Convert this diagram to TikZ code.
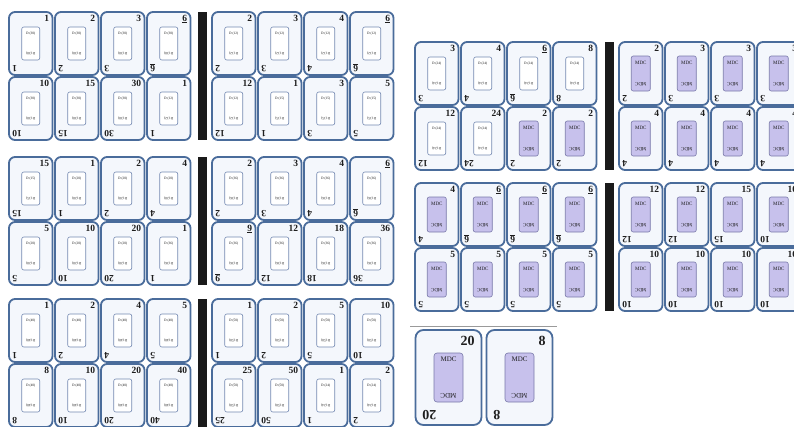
\documentclass[tikz,border=0pt]{standalone}
\usepackage{fontspec}
\setmainfont{Liberation Serif}
\usepackage{xcolor}
\usetikzlibrary{positioning,calc}
\definecolor{cardline}{HTML}{4A6C9B}
\definecolor{cardfill}{HTML}{F4F7FC}
\definecolor{divline}{HTML}{7489B2}
\definecolor{mdcfill}{HTML}{C7C1EC}
\definecolor{mdcline}{HTML}{7A7AAA}
\definecolor{numcol}{HTML}{1E1E1E}
\definecolor{barcol}{HTML}{1A1A1A}
\definecolor{rulegray}{HTML}{9A9A9A}
\tikzset{
  card/.style={draw=cardline, line width=1.8pt, rounded corners=6pt, fill=cardfill,
               minimum width=43.5pt, minimum height=63pt, inner sep=0pt},
  bigcard/.style={card, minimum width=66pt, minimum height=95pt, rounded corners=8pt},
  div/.style={draw=divline, line width=0.6pt, rounded corners=2pt, fill=white,
              minimum width=18pt, minimum height=33pt, inner sep=0pt},
  mdc/.style={div, draw=mdcline, fill=mdcfill, minimum width=19pt, minimum height=35pt},
  bigmdc/.style={mdc, minimum width=29pt, minimum height=49pt, rounded corners=3pt},
  num/.style={font=\fontsize{9.5}{10}\selectfont\bfseries, text=numcol, inner sep=0.5pt},
  bignum/.style={num, font=\fontsize{14}{15}\selectfont\bfseries},
  intxt/.style={font=\fontsize{3.5}{4}\selectfont, text=numcol, inner sep=0pt},
  bigtxt/.style={intxt, font=\fontsize{7}{7}\selectfont},
  bar/.style={fill=barcol}
}
\newcommand{\mdcname}{{\fontsize{5}{5}\selectfont MDC}}
% one block of 4x2 cards: id, left x, top y, list number/box/label
\newcommand{\cardblock}[4]{%
  \foreach \cn/\ck/\cl [count=\i from 0] in {#4} {
    \pgfmathsetmacro{\cx}{#2+mod(\i,4)*46+21.75}
    \pgfmathsetmacro{\cy}{#3+int(\i/4)*65+31.5}
    \node[card] (#1c\i) at (\cx,\cy) {};
    \node[\ck] (#1i\i) at (#1c\i.center) {};
    \node[intxt] (#1t\i) at ([yshift=-7pt]#1i\i.north) {\cl};
    \node[intxt, rotate=180] (#1b\i) at ([yshift=7pt]#1i\i.south) {\cl};
    \node[num, anchor=north east] (#1n\i) at ([xshift=-3.5pt,yshift=-3pt]#1c\i.north east) {\cn};
    \node[num, rotate=180, anchor=north east] (#1r\i) at ([xshift=3.5pt,yshift=3pt]#1c\i.south west) {\cn};
  }%
}

\begin{document}
\begin{tikzpicture}[x=1pt,y=-1pt]
  \fill[white] (0,0) rectangle (794,426);
  \useasboundingbox (0,0) rectangle (794,426);

  % left half
  \cardblock{a}{9}{12}{1/div/D (30), 2/div/D (30), 3/div/D (30), \underline{6}/div/D (30),
    10/div/D (30), 15/div/D (30), 30/div/D (30), 1/div/D (12)}
  \cardblock{b}{212}{12}{2/div/D (12), 3/div/D (12), 4/div/D (12), \underline{6}/div/D (12),
    12/div/D (12), 1/div/D (15), 3/div/D (15), 5/div/D (15)}
  \cardblock{c}{9}{157}{15/div/D (15), 1/div/D (20), 2/div/D (20), 4/div/D (20),
    5/div/D (20), 10/div/D (20), 20/div/D (20), 1/div/D (36)}
  \cardblock{d}{212}{157}{2/div/D (36), 3/div/D (36), 4/div/D (36), \underline{6}/div/D (36),
    \underline{9}/div/D (36), 12/div/D (36), 18/div/D (36), 36/div/D (36)}
  \cardblock{e}{9}{299}{1/div/D (40), 2/div/D (40), 4/div/D (40), 5/div/D (40),
    8/div/D (40), 10/div/D (40), 20/div/D (40), 40/div/D (40)}
  \cardblock{f}{212}{299}{1/div/D (50), 2/div/D (50), 5/div/D (50), 10/div/D (50),
    25/div/D (50), 50/div/D (50), 1/div/D (24), 2/div/D (24)}
  \fill[bar] (197.5,12) rectangle (206.5,140);
  \fill[bar] (197.5,157) rectangle (206.5,285);
  \fill[bar] (197.5,299) rectangle (206.5,427);

  % right half
  \cardblock{g}{415}{42}{3/div/D (24), 4/div/D (24), \underline{6}/div/D (24), 8/div/D (24),
    12/div/D (24), 24/div/D (24), 2/mdc/\mdcname, 2/mdc/\mdcname}
  \cardblock{h}{619}{42}{2/mdc/\mdcname, 3/mdc/\mdcname, 3/mdc/\mdcname, 3/mdc/\mdcname,
    4/mdc/\mdcname, 4/mdc/\mdcname, 4/mdc/\mdcname, 4/mdc/\mdcname}
  \cardblock{i}{415}{183}{4/mdc/\mdcname, \underline{6}/mdc/\mdcname, \underline{6}/mdc/\mdcname, \underline{6}/mdc/\mdcname,
    5/mdc/\mdcname, 5/mdc/\mdcname, 5/mdc/\mdcname, 5/mdc/\mdcname}
  \cardblock{j}{619}{183}{12/mdc/\mdcname, 12/mdc/\mdcname, 15/mdc/\mdcname, 10/mdc/\mdcname,
    10/mdc/\mdcname, 10/mdc/\mdcname, 10/mdc/\mdcname, 10/mdc/\mdcname}
  \fill[bar] (605,42) rectangle (614,170);
  \fill[bar] (605,183) rectangle (614,311);

  % last two cards
  \draw[rulegray, line width=0.8pt] (410,326) -- (557,326);
  \foreach \cn/\cx [count=\i] in {20/448.5, 8/519.5} {
    \node[bigcard] (k\i) at (\cx,377.5) {};
    \node[bigmdc] (ki\i) at (k\i.center) {};
    \node[bigtxt] (kt\i) at ([yshift=-7pt]ki\i.north) {MDC};
    \node[bigtxt, rotate=180] (kb\i) at ([yshift=7pt]ki\i.south) {MDC};
    \node[bignum, anchor=north east] (kn\i) at ([xshift=-7pt,yshift=-6pt]k\i.north east) {\cn};
    \node[bignum, rotate=180, anchor=north east] (kr\i) at ([xshift=7pt,yshift=5pt]k\i.south west) {\cn};
  }
\end{tikzpicture}
\end{document}
